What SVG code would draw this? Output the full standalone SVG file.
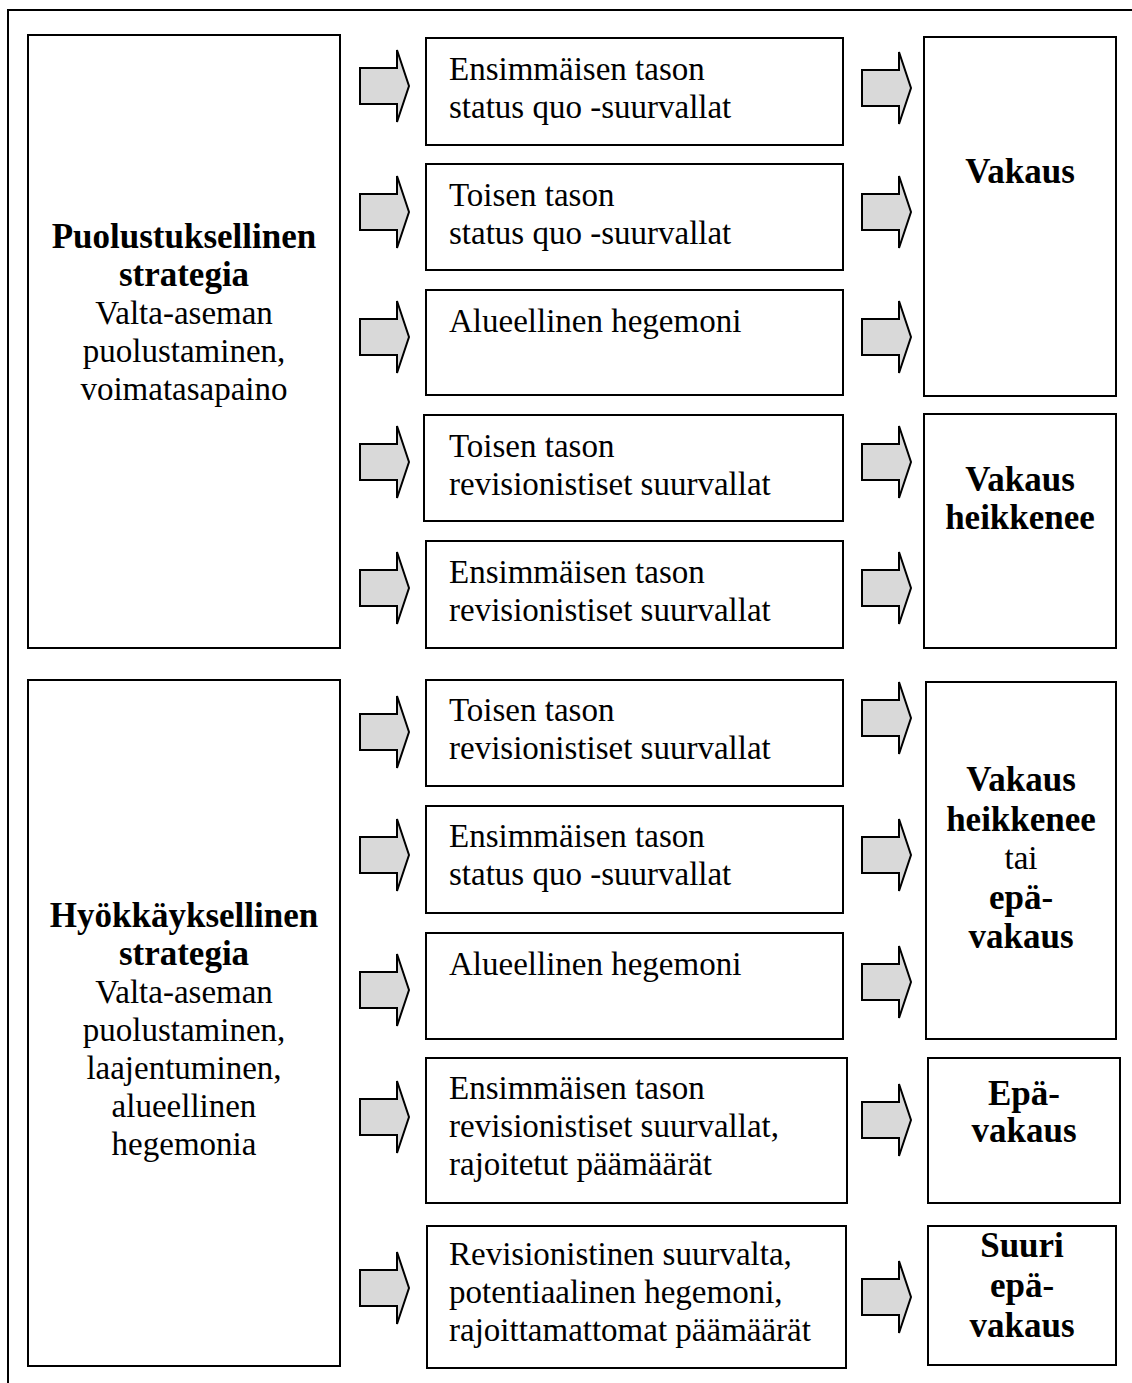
<svg xmlns="http://www.w3.org/2000/svg" xmlns:xlink="http://www.w3.org/1999/xlink" width="1132" height="1383" viewBox="0 0 1132 1383">
  <style>
    .frame { fill: none; stroke: #000; stroke-width: 2; }
    .box { fill: #fff; stroke: #000; stroke-width: 2; }
    .arrow { fill: #d9d9d9; stroke: #000; stroke-width: 2; stroke-linejoin: miter; }
    text { font-family: "Liberation Serif", "DejaVu Serif", serif; font-size: 33px; fill: #000; }
    .b { font-weight: bold; font-size: 35px; }
    .c { text-anchor: middle; }
  </style>
  <defs>
    <!-- block arrow, tip at the origin -->
    <path id="blockArrow" class="arrow" d="M -49 -18 L -12 -18 L -12 -36 L 0 0 L -12 36 L -12 18 L -49 18 Z"/>
  </defs>

  <!-- outer frame (open to the right and bottom) -->
  <path class="frame" d="M 8 1383 V 10 H 1132"/>

  <!-- strategy boxes -->
  <g id="defensive-strategy">
    <rect class="box" x="28" y="35" width="312" height="613"/>
    <text class="b c" x="184" y="248">Puolustuksellinen</text>
    <text class="b c" x="184" y="286">strategia</text>
    <text class="c" x="184" y="324">Valta-aseman</text>
    <text class="c" x="184" y="362">puolustaminen,</text>
    <text class="c" x="184" y="400">voimatasapaino</text>
  </g>
  <g id="offensive-strategy">
    <rect class="box" x="28" y="680" width="312" height="686"/>
    <text class="b c" x="184" y="927">Hyökkäyksellinen</text>
    <text class="b c" x="184" y="965">strategia</text>
    <text class="c" x="184" y="1003">Valta-aseman</text>
    <text class="c" x="184" y="1041">puolustaminen,</text>
    <text class="c" x="184" y="1079">laajentuminen,</text>
    <text class="c" x="184" y="1117">alueellinen</text>
    <text class="c" x="184" y="1155">hegemonia</text>
  </g>

  <!-- actor boxes -->
  <g id="actor-1">
    <rect class="box" x="426" y="38" width="417" height="107"/>
    <text x="449" y="80">Ensimmäisen tason</text>
    <text x="449" y="118">status quo -suurvallat</text>
  </g>
  <g id="actor-2">
    <rect class="box" x="426" y="164" width="417" height="106"/>
    <text x="449" y="206">Toisen tason</text>
    <text x="449" y="244">status quo -suurvallat</text>
  </g>
  <g id="actor-3">
    <rect class="box" x="426" y="290" width="417" height="105"/>
    <text x="449" y="332">Alueellinen hegemoni</text>
  </g>
  <g id="actor-4">
    <rect class="box" x="424" y="415" width="419" height="106"/>
    <text x="449" y="457">Toisen tason</text>
    <text x="449" y="495">revisionistiset suurvallat</text>
  </g>
  <g id="actor-5">
    <rect class="box" x="426" y="541" width="417" height="107"/>
    <text x="449" y="583">Ensimmäisen tason</text>
    <text x="449" y="621">revisionistiset suurvallat</text>
  </g>
  <g id="actor-6">
    <rect class="box" x="426" y="680" width="417" height="106"/>
    <text x="449" y="721">Toisen tason</text>
    <text x="449" y="759">revisionistiset suurvallat</text>
  </g>
  <g id="actor-7">
    <rect class="box" x="426" y="806" width="417" height="107"/>
    <text x="449" y="847">Ensimmäisen tason</text>
    <text x="449" y="885">status quo -suurvallat</text>
  </g>
  <g id="actor-8">
    <rect class="box" x="426" y="933" width="417" height="106"/>
    <text x="449" y="975">Alueellinen hegemoni</text>
  </g>
  <g id="actor-9">
    <rect class="box" x="426" y="1058" width="421" height="145"/>
    <text x="449" y="1099">Ensimmäisen tason</text>
    <text x="449" y="1137">revisionistiset suurvallat,</text>
    <text x="449" y="1175">rajoitetut päämäärät</text>
  </g>
  <g id="actor-10">
    <rect class="box" x="427" y="1226" width="419" height="142"/>
    <text x="449" y="1265">Revisionistinen suurvalta,</text>
    <text x="449" y="1303">potentiaalinen hegemoni,</text>
    <text x="449" y="1341">rajoittamattomat päämäärät</text>
  </g>

  <!-- outcome boxes -->
  <g id="outcome-stable">
    <rect class="box" x="924" y="37" width="192" height="359"/>
    <text class="b c" x="1020" y="183">Vakaus</text>
  </g>
  <g id="outcome-weakening">
    <rect class="box" x="924" y="414" width="192" height="234"/>
    <text class="b c" x="1020" y="491">Vakaus</text>
    <text class="b c" x="1020" y="529">heikkenee</text>
  </g>
  <g id="outcome-weakening-or-unstable">
    <rect class="box" x="926" y="682" width="190" height="357"/>
    <text class="b c" x="1021" y="791">Vakaus</text>
    <text class="b c" x="1021" y="831">heikkenee</text>
    <text class="c" x="1021" y="869">tai</text>
    <text class="b c" x="1021" y="909">epä-</text>
    <text class="b c" x="1021" y="948">vakaus</text>
  </g>
  <g id="outcome-unstable">
    <rect class="box" x="928" y="1058" width="192" height="145"/>
    <text class="b c" x="1024" y="1105">Epä-</text>
    <text class="b c" x="1024" y="1142">vakaus</text>
  </g>
  <g id="outcome-very-unstable">
    <rect class="box" x="928" y="1226" width="188" height="139"/>
    <text class="b c" x="1022" y="1257">Suuri</text>
    <text class="b c" x="1022" y="1297">epä-</text>
    <text class="b c" x="1022" y="1337">vakaus</text>
  </g>

  <!-- connectors: block arrows -->
  <g id="connectors">
    <use xlink:href="#blockArrow" x="409" y="86"/>
    <use xlink:href="#blockArrow" x="409" y="212"/>
    <use xlink:href="#blockArrow" x="409" y="337"/>
    <use xlink:href="#blockArrow" x="409" y="462"/>
    <use xlink:href="#blockArrow" x="409" y="588"/>
    <use xlink:href="#blockArrow" x="409" y="732"/>
    <use xlink:href="#blockArrow" x="409" y="855"/>
    <use xlink:href="#blockArrow" x="409" y="990"/>
    <use xlink:href="#blockArrow" x="409" y="1117"/>
    <use xlink:href="#blockArrow" x="409" y="1288"/>

    <use xlink:href="#blockArrow" x="911" y="88"/>
    <use xlink:href="#blockArrow" x="911" y="212"/>
    <use xlink:href="#blockArrow" x="911" y="337"/>
    <use xlink:href="#blockArrow" x="911" y="462"/>
    <use xlink:href="#blockArrow" x="911" y="588"/>
    <use xlink:href="#blockArrow" x="911" y="718"/>
    <use xlink:href="#blockArrow" x="911" y="855"/>
    <use xlink:href="#blockArrow" x="911" y="982"/>
    <use xlink:href="#blockArrow" x="911" y="1120"/>
    <use xlink:href="#blockArrow" x="911" y="1297"/>
  </g>
</svg>
